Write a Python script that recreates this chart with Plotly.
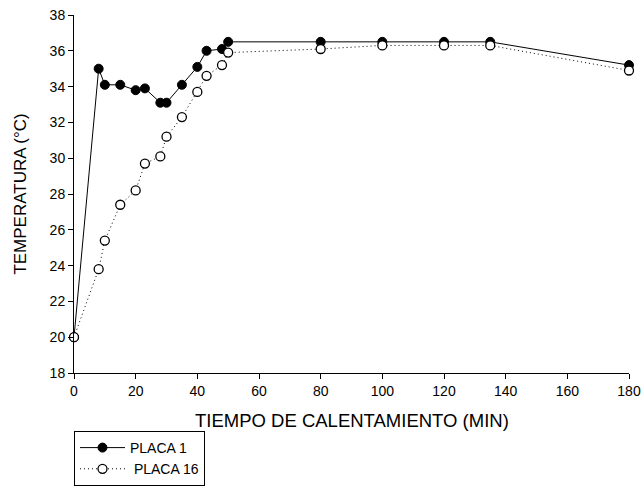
import plotly.graph_objects as go

tiempo = [0, 8, 10, 15, 20, 23, 28, 30, 35, 40, 43, 48, 50, 80, 100, 120, 135, 180]
placa1 = [20, 35.0, 34.1, 34.1, 33.8, 33.9, 33.1, 33.1, 34.1, 35.1, 36.0, 36.1, 36.5, 36.5, 36.5, 36.5, 36.5, 35.2]
placa16 = [20, 23.8, 25.4, 27.4, 28.2, 29.7, 30.1, 31.2, 32.3, 33.7, 34.6, 35.2, 35.9, 36.1, 36.3, 36.3, 36.3, 34.9]

x_ticks = [0, 20, 40, 60, 80, 100, 120, 140, 160, 180]
y_ticks = [18, 20, 22, 24, 26, 28, 30, 32, 34, 36, 38]
x_title = "TIEMPO DE CALENTAMIENTO (MIN)"
y_title = "TEMPERATURA (°C)"

FONT = "Arial, Liberation Sans, sans-serif"

fig = go.Figure()
fig.add_trace(go.Scatter(
    x=tiempo, y=placa1, mode="lines+markers", name="PLACA 1",
    line=dict(color="black", width=1),
    marker=dict(symbol="circle", size=9, color="black", line=dict(color="black", width=1)),
    cliponaxis=False,
))
fig.add_trace(go.Scatter(
    x=tiempo, y=placa16, mode="lines+markers", name=" PLACA 16",
    line=dict(color="black", width=1, dash="1px,3px"),
    marker=dict(symbol="circle", size=9, color="white", line=dict(color="black", width=1.3)),
    cliponaxis=False,
))

fig.update_layout(
    width=642, height=489,
    margin=dict(l=74, r=13, t=15, b=116, autoexpand=False),
    plot_bgcolor="white", paper_bgcolor="white",
    font=dict(family=FONT, color="black", size=14),
    showlegend=True,
    legend=dict(
        xref="container", yref="container",
        x=74 / 642, y=1 - 431 / 489, xanchor="left", yanchor="top",
        bordercolor="black", borderwidth=1, bgcolor="white",
        font=dict(size=14, family=FONT), tracegroupgap=0,
        itemwidth=45,
    ),
    annotations=[
        dict(text=x_title, xref="paper", yref="paper", x=0.5, y=-0.134,
             xanchor="center", yanchor="middle", showarrow=False,
             font=dict(size=18.5, family=FONT)),
        dict(text=y_title, xref="paper", yref="paper", x=-0.098, y=0.5,
             xanchor="center", yanchor="middle", showarrow=False, textangle=-90,
             font=dict(size=17, family=FONT)),
    ],
)
fig.update_xaxes(
    range=[0, 180], tickvals=x_ticks, ticktext=[str(v) for v in x_ticks],
    showline=True, linecolor="black", linewidth=1,
    ticks="outside", ticklen=5, tickcolor="black",
    showgrid=False, zeroline=False, automargin=False,
)
fig.update_yaxes(
    range=[18, 38], tickvals=y_ticks, ticktext=[str(v) for v in y_ticks],
    showline=True, linecolor="black", linewidth=1,
    ticks="outside", ticklen=5, tickcolor="black",
    showgrid=False, zeroline=False, automargin=False,
)

fig.write_html(
    "out.html",
    config={"displayModeBar": False},
    post_script="document.body.style.margin='0';document.documentElement.style.overflow='hidden';",
)
